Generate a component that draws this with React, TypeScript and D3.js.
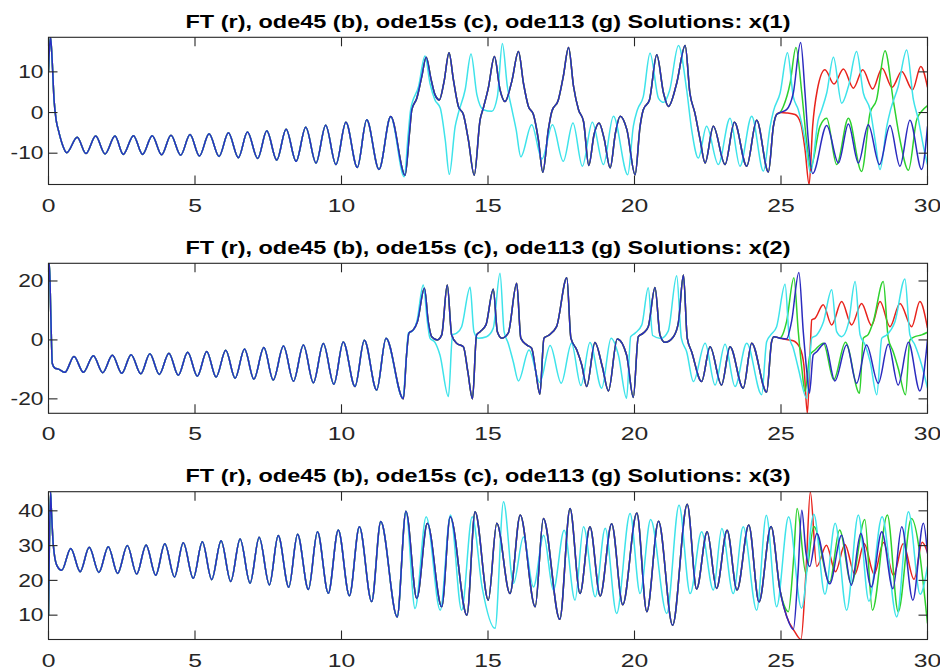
import React from 'react';
import * as d3 from 'd3';

type Pt = [number, number];

// ---------- tick labels / titles ----------
const xTicks = [0, 5, 10, 15, 20, 25, 30];
const yTicks1 = [-10, 0, 10];
const yTicks2 = [-20, 0, 20];
const yTicks3 = [10, 20, 30, 40];
const titles = [
  'FT (r), ode45 (b), ode15s (c), ode113 (g) Solutions: x(1)',
  'FT (r), ode45 (b), ode15s (c), ode113 (g) Solutions: x(2)',
  'FT (r), ode45 (b), ode15s (c), ode113 (g) Solutions: x(3)',
];
const yLim1: Pt = [-17.7, 18.5];
const yLim2: Pt = [-24.9, 26.0];
const yLim3: Pt = [3.0, 45.5];

// ---------- x(1) ----------
const x1Common: Pt[] = [
  [0, 10.1], [0.03, 15.4], [0.07, 18.5], [0.12, 13.5], [0.19, 3.1], [0.26, -1.8], [0.34, -4.4], [0.48, -8.0], [0.62, -9.9],
  [0.98, -6.1], [1.28, -10.1], [1.61, -5.8], [1.93, -10.2], [2.27, -5.8], [2.55, -10.3], [2.9, -5.7], [3.21, -10.3],
  [3.54, -5.7], [3.86, -10.4], [4.18, -5.6], [4.51, -10.5], [4.83, -5.4], [5.15, -10.7], [5.48, -5.2], [5.82, -10.8],
  [6.14, -5.0], [6.48, -11.1], [6.79, -4.8], [7.14, -11.3], [7.45, -4.5], [7.79, -11.7], [8.11, -4.1], [8.45, -12.0],
  [8.78, -3.6], [9.13, -12.4], [9.46, -3.1], [9.81, -12.8], [10.15, -2.4], [10.54, -13.5], [10.86, -1.8], [11.28, -14.0],
  [11.68, -1.0],
];
const x1Shared: Pt[] = [
  [12.17, -15.4], [12.32, -5.0], [12.4, 0.7], [12.57, 3.5], [12.74, 8.9], [12.89, 13.6], [13.05, 8.4], [13.19, 4.4],
  [13.34, 3.1], [13.5, 7.6], [13.67, 14.7], [13.82, 8.0], [13.99, 1.5], [14.16, -0.5], [14.33, -6.7], [14.53, -15.4],
  [14.73, -1.8], [14.84, 1.1], [15.01, 6.0], [15.22, 13.8], [15.41, 5.6], [15.58, 2.7], [15.81, 7.6], [16.04, 15.0],
  [16.21, 7.2], [16.38, 1.5], [16.55, -0.5], [16.72, -6.7], [16.87, -14.7], [17.06, -4.2], [17.18, 0.3], [17.4, 3.1],
  [17.57, 8.9], [17.75, 16.0], [17.92, 6.4], [18.09, 0.7], [18.26, -2.2], [18.44, -13.0], [18.62, -5.4], [18.79, -2.6],
  [18.96, -6.3], [19.17, -13.6], [19.35, -5.0], [19.51, -0.9], [19.74, -4.2], [20.02, -15.3], [20.19, -3.4], [20.3, 0.7],
  [20.51, 3.1], [20.76, 14.2], [20.99, 4.8], [21.16, 1.5], [21.44, 7.2], [21.73, 16.5], [21.89, 4.8], [22.06, -0.1],
  [22.24, -6.7], [22.41, -12.4], [22.69, -3.4], [23.09, -12.8], [23.41, -2.4], [23.83, -13.2], [24.17, -1.9], [24.57, -14.6],
  [24.74, -3.4], [24.85, -0.5], [24.97, 0.0],
];
const x1BlueTail: Pt[] = [
  [25.19, 0.7], [25.42, 4.8], [25.67, 17.2], [25.82, 4.8], [25.93, -6.7], [26.08, -15.0], [26.56, -3.2], [26.96, -12.4],
  [27.3, -2.8], [27.64, -12.4], [27.98, -3.0], [28.36, -12.8], [28.72, -3.2], [29.06, -13.2], [29.4, -1.9], [29.8, -14.0],
  [30.0, -3.4],
];
const x1GreenTail: Pt[] = [
  [25.08, 1.5], [25.31, 7.2], [25.51, 16.0], [25.71, 4.8], [25.88, -7.5], [26.01, -13.6], [26.33, -3.4], [26.56, -1.4],
  [26.9, -12.8], [27.3, -1.4], [27.75, -14.5], [28.04, -0.1], [28.26, 3.1], [28.55, 15.2], [28.83, 3.1], [29.06, -6.7],
  [29.35, -14.2], [29.63, -1.8], [29.8, 0.3], [30.0, 1.7],
];
const x1RedTail: Pt[] = [
  [25.19, -0.1], [25.48, -0.5], [25.67, -2.6], [25.82, -9.1], [25.96, -17.7], [26.08, -3.4], [26.24, 5.6], [26.5, 10.5],
  [26.81, 7.0], [27.13, 10.7], [27.47, 6.0], [27.79, 10.5], [28.13, 5.8], [28.45, 10.9], [28.79, 6.2], [29.12, 10.1],
  [29.49, 5.6], [29.77, 11.3], [30.0, 6.2],
];
const x1Cyan: Pt[] = [
  [12.14, -15.8], [12.28, -5.0], [12.36, 0.7], [12.63, 6.4], [12.85, 13.9], [13.02, 7.2], [13.19, 3.1], [13.37, 1.1],
  [13.54, -6.7], [13.68, -15.2], [13.88, -3.4], [13.99, -0.1], [14.22, 5.6], [14.42, 14.4], [14.62, 4.4], [14.84, 0.7],
  [15.13, 0.3], [15.32, 3.9], [15.49, 17.0], [15.66, 6.4], [15.83, 0.3], [15.96, -4.2], [16.12, -10.9], [16.49, -3.0],
  [16.84, -11.4], [17.2, -3.0], [17.57, -12.0], [17.9, -2.6], [18.22, -13.2], [18.56, -2.4], [18.94, -12.8], [19.28, -0.9],
  [19.77, -15.3], [19.96, -3.4], [20.1, 0.7], [20.3, 3.9], [20.53, 14.6], [20.82, 3.5], [21.0, 2.5], [21.2, 5.5],
  [21.5, 16.5], [21.78, 5.6], [21.95, -4.2], [22.18, -11.2], [22.46, -3.4], [22.86, -12.8], [23.26, -1.4], [23.6, -13.2],
  [24.0, -0.9], [24.4, -14.4], [24.63, -3.4], [24.74, 0.3], [24.97, 4.8], [25.22, 14.7], [25.42, 3.9], [25.59, 0.7],
  [25.82, -6.7], [26.01, -14.8], [26.27, -1.8], [26.39, 0.7], [26.56, 4.8], [26.79, 13.6], [27.07, 2.3], [27.3, 6.4],
  [27.58, 15.0], [27.81, 4.8], [28.04, 0.7], [28.21, -6.7], [28.38, -14.0], [28.61, -3.4], [28.74, 0.7], [29.0, 6.4],
  [29.29, 15.4], [29.52, 3.1], [29.69, -1.8], [29.86, -8.3], [30.0, -12.8],
];

// ---------- x(2) ----------
const x2Common: Pt[] = [
  [0, 20.3], [0.03, 26.0], [0.08, 8.0], [0.13, -8.0], [0.22, -9.6], [0.34, -9.9], [0.56, -11.0],
  [0.87, -5.6], [1.19, -11.0], [1.53, -5.4], [1.85, -11.1], [2.18, -5.2], [2.5, -11.3], [2.82, -5.0], [3.15, -11.5],
  [3.46, -4.7], [3.78, -11.7], [4.11, -4.5], [4.43, -12.0], [4.75, -4.2], [5.08, -12.3], [5.4, -3.9], [5.72, -12.6],
  [6.05, -3.5], [6.37, -13.0], [6.69, -3.1], [7.01, -13.3], [7.35, -2.6], [7.67, -13.6], [8.02, -2.1], [8.36, -14.0],
  [8.7, -1.7], [9.04, -14.5], [9.38, -1.2], [9.74, -15.0], [10.06, -0.7], [10.46, -15.8], [10.78, -0.1], [11.2, -17.0],
  [11.52, 0.6],
];
const x2Shared: Pt[] = [
  [12.11, -20.0], [12.22, -5.1], [12.3, 2.3], [12.45, 3.4], [12.59, 6.2], [12.83, 17.5], [12.96, 6.2], [13.08, 1.1],
  [13.27, 0.0], [13.42, 1.7], [13.61, 18.6], [13.76, 1.7], [13.93, -1.1], [14.16, -2.3], [14.31, -10.7], [14.47, -20.0],
  [14.61, 1.7], [14.73, 2.8], [14.93, 5.1], [15.18, 17.2], [15.32, 2.8], [15.47, 0.6], [15.69, 2.3], [15.98, 19.2],
  [16.12, 0.6], [16.32, -1.7], [16.49, -2.8], [16.63, -10.7], [16.77, -18.4], [16.91, 0.6], [17.06, 1.5], [17.34, 4.5],
  [17.69, 21.1], [17.83, 0.6], [18.03, -3.4], [18.2, -8.5], [18.37, -15.8], [18.65, -0.9], [18.9, -9.0], [19.11, -17.3],
  [19.41, 0.3], [19.73, -5.1], [19.96, -19.5], [20.13, 1.1], [20.3, 2.3], [20.47, 4.5], [20.7, 17.8], [20.87, 1.7],
  [21.04, -0.8], [21.33, 1.1], [21.5, 6.0], [21.67, 22.0], [21.8, 0.6], [21.95, -4.0], [22.29, -14.1], [22.58, -2.3],
  [22.97, -15.3], [23.26, -2.3], [23.71, -16.4], [24.0, -1.1], [24.51, -17.7], [24.68, -0.6], [24.76, 1.1], [24.97, 0.6],
];
const x2BlueTail: Pt[] = [
  [25.19, 0.3], [25.36, 6.2], [25.61, 22.9], [25.76, 2.8], [25.88, -10.7], [25.97, -18.1], [26.1, -5.1], [26.22, -4.0],
  [26.5, -1.1], [26.84, -13.9], [27.24, -1.7], [27.58, -14.7], [27.92, -1.7], [28.32, -14.7], [28.66, -1.5], [29.0, -15.3],
  [29.35, -0.8], [29.74, -17.3], [30.0, 0.0],
];
const x2GreenTail: Pt[] = [
  [25.02, 1.1], [25.19, 6.2], [25.44, 21.1], [25.59, 2.8], [25.71, -9.6], [25.82, -17.5], [25.99, -5.1], [26.16, -3.4],
  [26.45, -1.1], [26.8, -13.5], [27.2, -0.8], [27.68, -18.1], [27.81, 0.6], [27.98, 1.9], [28.15, 6.2], [28.49, 19.8],
  [28.66, 0.6], [28.83, -4.0], [29.0, -9.6], [29.25, -18.6], [29.4, 0.0], [29.57, 1.1], [29.8, 1.7], [30.0, 2.6],
];
const x2RedTail: Pt[] = [
  [25.08, 0.3], [25.42, -0.3], [25.65, -2.8], [25.78, -8.5], [25.9, -24.9], [25.99, -5.1], [26.05, 6.8], [26.16, 7.3],
  [26.44, 11.9], [26.73, 5.1], [27.07, 13.0], [27.41, 5.1], [27.75, 12.4], [28.09, 4.9], [28.38, 13.0], [28.72, 4.5],
  [29.06, 12.4], [29.46, 4.5], [29.74, 13.0], [30.0, 4.0],
];
const x2Cyan: Pt[] = [
  [12.09, -19.6], [12.22, -5.1], [12.28, 2.3], [12.43, 3.1], [12.57, 6.2], [12.79, 18.6], [12.93, 6.2], [13.02, 0.6],
  [13.19, -0.8], [13.36, -5.1], [13.65, -19.2], [13.79, 1.7], [13.93, 2.3], [14.1, 4.5], [14.39, 17.9], [14.52, 2.8],
  [14.67, 0.6], [14.95, 1.1], [15.18, 4.0], [15.41, 22.6], [15.55, 2.8], [15.69, -1.1], [15.86, -7.3], [16.04, -13.9],
  [16.4, -3.4], [16.77, -14.4], [17.12, -1.9], [17.5, -14.7], [17.85, -1.1], [18.17, -15.5], [18.48, -0.9], [18.88, -16.4],
  [19.2, 0.6], [19.45, -5.1], [19.73, -19.8], [19.87, 1.1], [20.02, 2.3], [20.25, 5.1], [20.47, 17.7], [20.62, 1.5],
  [20.9, 0.5], [21.15, 3.0], [21.44, 21.8], [21.6, 0.6], [21.78, -4.0], [22.01, -14.1], [22.41, -1.1], [22.75, -15.3],
  [23.09, -1.5], [23.43, -15.8], [23.83, -1.1], [24.34, -18.6], [24.51, -0.6], [24.65, 1.7], [24.85, 4.5], [25.14, 18.9],
  [25.28, 1.1], [25.42, -2.8], [25.59, -9.6], [25.88, -19.8], [26.05, 0.6], [26.22, 1.7], [26.45, 6.2], [26.73, 17.0],
  [26.9, 2.8], [27.07, 1.1], [27.3, 5.6], [27.53, 19.8], [27.7, 1.7], [27.87, -1.7], [28.04, -7.3], [28.27, -18.6],
  [28.44, 0.6], [28.61, 1.7], [28.89, 6.2], [29.23, 20.7], [29.4, 1.7], [29.57, -1.7], [29.8, -8.5], [30.0, -16.4],
];

// ---------- x(3) ----------
const x3Common: Pt[] = [
  [0, 10.0], [0.03, 30.0], [0.07, 45.4], [0.1, 40.0], [0.16, 30.6], [0.28, 24.4], [0.45, 22.9],
  [0.76, 29.2], [1.08, 22.5], [1.39, 29.5], [1.72, 22.3], [2.04, 29.7], [2.36, 22.0], [2.69, 30.0], [3.01, 21.8],
  [3.33, 30.2], [3.66, 21.5], [3.97, 30.5], [4.3, 21.0], [4.6, 30.8], [4.94, 20.6], [5.25, 31.1], [5.57, 20.2],
  [5.89, 31.4], [6.22, 19.7], [6.54, 31.9], [6.88, 19.2], [7.19, 32.4], [7.54, 18.7], [7.84, 32.9], [8.2, 18.0],
  [8.5, 33.3], [8.87, 17.4], [9.18, 34.0], [9.55, 16.3], [9.89, 34.5], [10.27, 15.6], [10.61, 35.4], [11.03, 13.9],
  [11.34, 36.9], [11.9, 9.5], [12.2, 39.9],
];
const x3Shared: Pt[] = [
  [12.57, 14.8], [12.93, 36.4], [13.42, 12.4], [13.71, 38.3], [14.28, 10.0], [14.56, 39.7], [15.01, 14.3], [15.3, 36.4],
  [15.75, 16.2], [16.1, 38.8], [16.61, 12.4], [16.89, 37.8], [17.45, 8.8], [17.8, 40.7], [18.14, 16.2], [18.48, 35.4],
  [18.83, 15.5], [19.22, 36.3], [19.6, 13.0], [20.08, 39.4], [20.42, 11.0], [20.82, 37.0], [21.3, 7.1], [21.8, 41.9],
  [22.12, 17.5], [22.48, 34.0], [22.8, 17.7], [23.16, 34.4], [23.5, 17.2], [23.9, 35.9], [24.25, 13.8], [24.66, 35.5],
  [24.97, 17.0],
];
const x3BlueTail: Pt[] = [
  [25.2, 9.5], [25.42, 5.9], [25.58, 22.0], [25.71, 40.2], [25.85, 28.0], [25.98, 24.0], [26.22, 33.5], [26.66, 19.0],
  [27.07, 33.0], [27.4, 18.6], [27.72, 33.5], [28.08, 18.1], [28.44, 34.0], [28.82, 17.6], [29.12, 35.4], [29.5, 14.3],
  [29.86, 36.4], [30.0, 27.7],
];
const x3GreenTail: Pt[] = [
  [25.1, 13.0], [25.25, 11.0], [25.42, 25.0], [25.55, 40.7], [25.85, 22.0], [26.12, 35.5], [26.66, 19.5], [27.0, 34.5],
  [27.4, 19.0], [27.86, 37.5], [28.12, 11.4], [28.63, 38.8], [29.0, 11.0], [29.45, 37.8], [30.0, 7.6],
];
const x3RedTail: Pt[] = [
  [25.2, 9.5], [25.45, 5.5], [25.68, 3.0], [25.85, 22.0], [26.0, 45.4], [26.22, 24.0], [26.55, 30.1], [26.86, 22.5],
  [27.18, 30.3], [27.52, 21.8], [27.84, 30.5], [28.18, 21.8], [28.5, 30.9], [28.84, 21.5], [29.17, 30.5], [29.54, 20.3],
  [29.82, 31.0], [30.0, 28.0],
];
const x3Cyan: Pt[] = [
  [12.51, 11.9], [12.89, 38.3], [13.37, 11.4], [13.72, 38.8], [14.1, 11.4], [14.46, 38.3], [14.8, 18.0], [15.24, 6.2],
  [15.53, 42.6], [15.87, 19.1], [16.21, 32.5], [16.55, 18.1], [16.9, 33.0], [17.23, 17.2], [17.6, 34.4], [17.97, 14.3],
  [18.26, 35.4], [18.66, 15.3], [19.0, 35.0], [19.39, 10.5], [19.85, 39.2], [20.19, 16.2], [20.55, 37.5], [21.1, 10.5],
  [21.52, 41.6], [21.9, 16.2], [22.29, 34.0], [22.69, 17.2], [22.98, 34.9], [23.37, 16.2], [23.71, 35.4], [24.17, 11.4],
  [24.5, 38.7], [24.85, 12.4], [25.26, 38.3], [25.7, 12.0], [26.12, 39.0], [26.5, 16.0], [26.85, 36.4], [27.24, 11.4],
  [27.64, 38.8], [28.0, 14.0], [28.45, 38.3], [28.95, 9.5], [29.35, 39.7], [29.75, 16.0], [30.0, 24.0],
];

// ---------- layout & style ----------
const W = 940;
const H = 670;
const X0 = 48.5;
const X1 = 927.5;
const panelTop = [37.3, 263.3, 491.7];
const panelBottom = [184.5, 413.3, 639.5];
const FONT = "'Liberation Sans', Arial, Helvetica, sans-serif";
const AXIS = '#262626';
const COLORS = { r: '#e8231c', g: '#2ed12e', c: '#3ee3ea', b: '#2b2bbf' };
const STRETCH = 1.3;

export default function App() {
  const x = d3.scaleLinear().domain([0, 30]).range([X0, X1]);
  const panels = [
    {
      lim: yLim1, ticks: yTicks1,
      series: [
        { c: COLORS.r, d: [...x1Common, ...x1Shared, ...x1RedTail] },
        { c: COLORS.g, d: [...x1Common, ...x1Shared, ...x1GreenTail] },
        { c: COLORS.c, d: [...x1Common, ...x1Cyan] },
        { c: COLORS.b, d: [...x1Common, ...x1Shared, ...x1BlueTail] },
      ],
    },
    {
      lim: yLim2, ticks: yTicks2,
      series: [
        { c: COLORS.r, d: [...x2Common, ...x2Shared, ...x2RedTail] },
        { c: COLORS.g, d: [...x2Common, ...x2Shared, ...x2GreenTail] },
        { c: COLORS.c, d: [...x2Common, ...x2Cyan] },
        { c: COLORS.b, d: [...x2Common, ...x2Shared, ...x2BlueTail] },
      ],
    },
    {
      lim: yLim3, ticks: yTicks3,
      series: [
        { c: COLORS.r, d: [...x3Common, ...x3Shared, ...x3RedTail] },
        { c: COLORS.g, d: [...x3Common, ...x3Shared, ...x3GreenTail] },
        { c: COLORS.c, d: [...x3Common, ...x3Cyan] },
        { c: COLORS.b, d: [...x3Common, ...x3Shared, ...x3BlueTail] },
      ],
    },
  ];
  const TL = 9;
  return (
    <svg width={W} height={H} style={{ position: 'absolute', left: 0, top: 0, background: '#fff' }}>
      <rect x={0} y={0} width={W} height={H} fill="#fff" />
      {panels.map((p, i) => {
        const top = panelTop[i];
        const bot = panelBottom[i];
        const y = d3.scaleLinear().domain(p.lim).range([bot, top]);
        const line = d3.line<Pt>().x((d) => x(d[0])).y((d) => y(d[1])).curve(d3.curveMonotoneX);
        const clipId = `clip${i}`;
        return (
          <g key={i}>
            <defs>
              <clipPath id={clipId}>
                <rect x={X0} y={top} width={X1 - X0} height={bot - top} />
              </clipPath>
            </defs>
            <g clipPath={`url(#${clipId})`}>
              {p.series.map((s, j) => (
                <path key={j} d={line(s.d) || ''} fill="none" stroke={s.c} strokeWidth={1.5} strokeLinejoin="round" />
              ))}
            </g>
            <rect x={X0} y={top} width={X1 - X0} height={bot - top} fill="none" stroke={AXIS} strokeWidth={1.1} />
            {xTicks.map((t) => (
              <g key={`xt${t}`}>
                <line x1={x(t)} x2={x(t)} y1={bot} y2={bot - TL} stroke={AXIS} strokeWidth={1.1} />
                <line x1={x(t)} x2={x(t)} y1={top} y2={top + TL} stroke={AXIS} strokeWidth={1.1} />
                <text
                  transform={`translate(${x(t)},${bot + 27}) scale(${STRETCH},1)`}
                  textAnchor="middle" fontFamily={FONT} fontSize={19} fill={AXIS}
                >{t}</text>
              </g>
            ))}
            {p.ticks.map((v) => (
              <g key={`yt${v}`}>
                <line x1={X0} x2={X0 + TL} y1={y(v)} y2={y(v)} stroke={AXIS} strokeWidth={1.1} />
                <line x1={X1} x2={X1 - TL} y1={y(v)} y2={y(v)} stroke={AXIS} strokeWidth={1.1} />
                <text
                  transform={`translate(${X0 - 5},${y(v) + 6.3}) scale(${STRETCH},1)`}
                  textAnchor="end" fontFamily={FONT} fontSize={17.5} fill={AXIS}
                >{v}</text>
              </g>
            ))}
            <text
              x={(X0 + X1) / 2} y={top - 9.3} textAnchor="middle" fontFamily={FONT} fontWeight="bold"
              fontSize={18.5} fill="#000" textLength={605} lengthAdjust="spacingAndGlyphs"
            >{titles[i]}</text>
          </g>
        );
      })}
    </svg>
  );
}
